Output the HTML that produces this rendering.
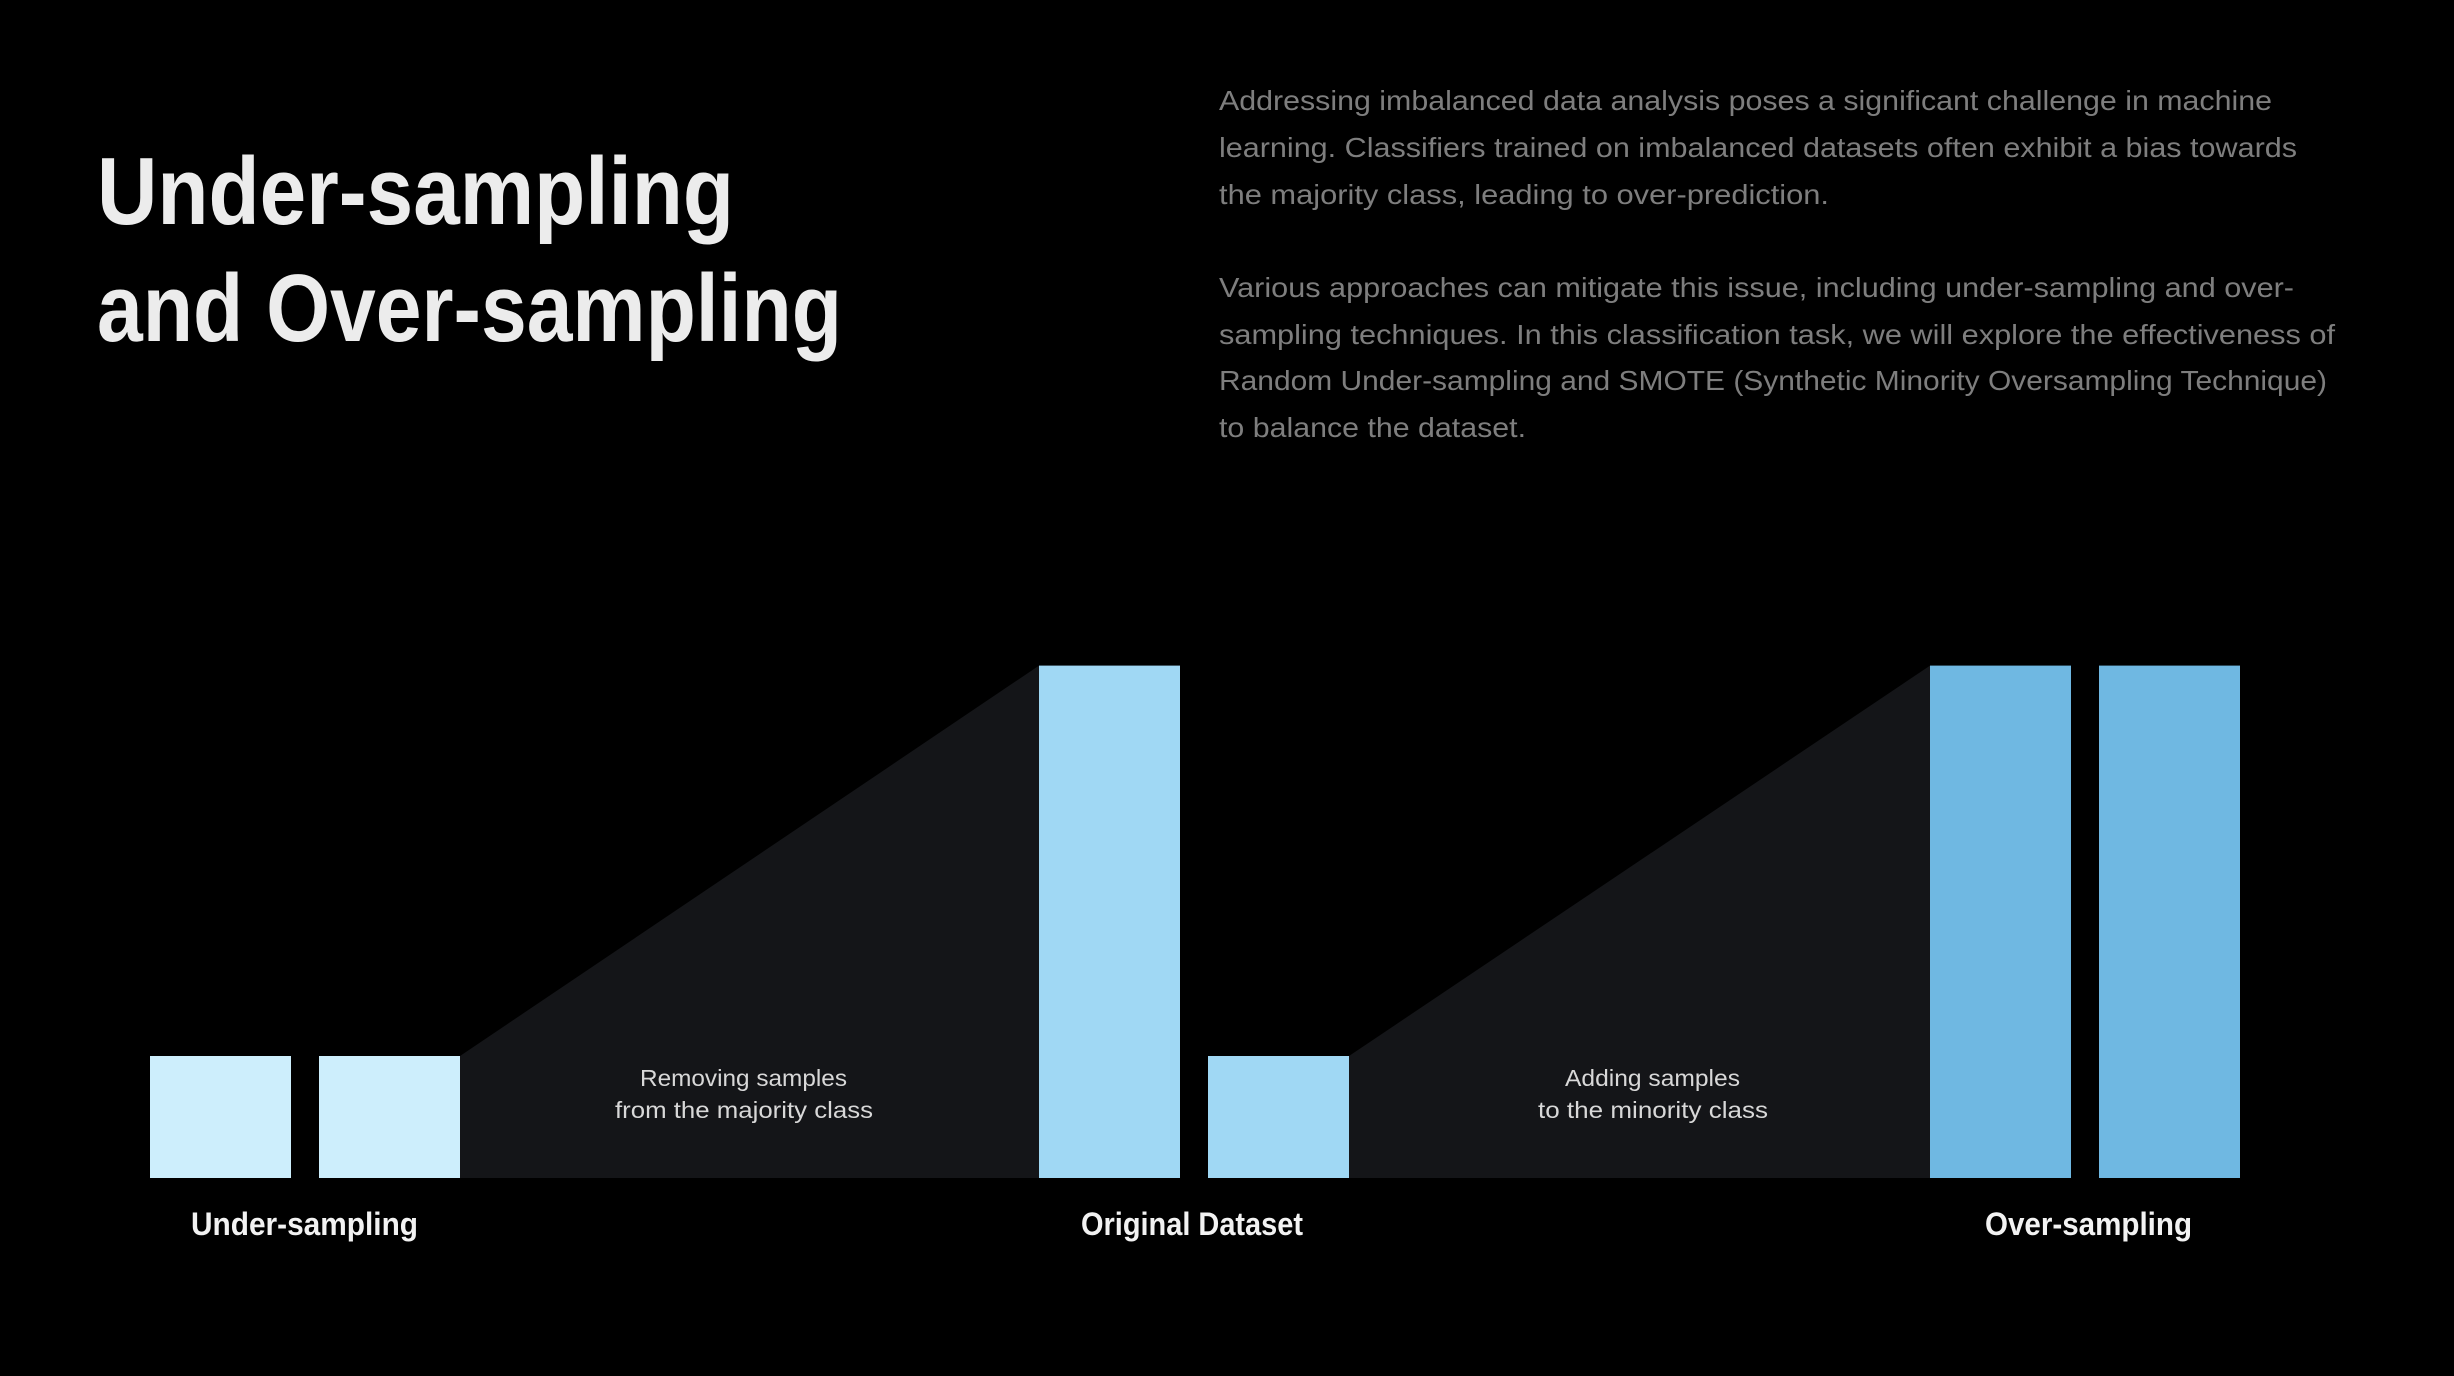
<!DOCTYPE html>
<html><head><meta charset="utf-8"><style>
html,body{margin:0;padding:0;background:#000;}
svg{display:block;}
text{font-family:"Liberation Sans",sans-serif;}
</style></head><body>
<svg id="chart" width="2454" height="1376" viewBox="0 0 2454 1376" xmlns="http://www.w3.org/2000/svg">
<rect width="2454" height="1376" fill="#000"/>
<g fill="#ececec" font-weight="bold" font-size="96">
<text x="97" y="224" textLength="637" lengthAdjust="spacingAndGlyphs">Under-sampling</text>
<text x="97" y="341" textLength="745" lengthAdjust="spacingAndGlyphs">and Over-sampling</text>
</g>
<g fill="#7e7e7e" font-size="28">
<text x="1219" y="110" textLength="1053" lengthAdjust="spacingAndGlyphs">Addressing imbalanced data analysis poses a significant challenge in machine</text>
<text x="1219" y="157" textLength="1078" lengthAdjust="spacingAndGlyphs">learning. Classifiers trained on imbalanced datasets often exhibit a bias towards</text>
<text x="1219" y="204" textLength="610" lengthAdjust="spacingAndGlyphs">the majority class, leading to over-prediction.</text>
<text x="1219" y="297" textLength="1075" lengthAdjust="spacingAndGlyphs">Various approaches can mitigate this issue, including under-sampling and over-</text>
<text x="1219" y="344" textLength="1116" lengthAdjust="spacingAndGlyphs">sampling techniques. In this classification task, we will explore the effectiveness of</text>
<text x="1219" y="390" textLength="1108" lengthAdjust="spacingAndGlyphs">Random Under-sampling and SMOTE (Synthetic Minority Oversampling Technique)</text>
<text x="1219" y="437" textLength="307" lengthAdjust="spacingAndGlyphs">to balance the dataset.</text>
</g>
<g id="shapes"></g>
<g fill="#f2f2f2" font-weight="bold" font-size="32">
<text x="191" y="1235" textLength="227" lengthAdjust="spacingAndGlyphs">Under-sampling</text>
<text x="1081" y="1235" textLength="222" lengthAdjust="spacingAndGlyphs">Original Dataset</text>
<text x="1985" y="1235" textLength="207" lengthAdjust="spacingAndGlyphs">Over-sampling</text>
</g>
<g fill="#d8d8d8" font-size="23">
<text x="640" y="1086" textLength="207" lengthAdjust="spacingAndGlyphs">Removing samples</text>
<text x="615" y="1118" textLength="258" lengthAdjust="spacingAndGlyphs">from the majority class</text>
<text x="1565" y="1086" textLength="175" lengthAdjust="spacingAndGlyphs">Adding samples</text>
<text x="1538" y="1118" textLength="230" lengthAdjust="spacingAndGlyphs">to the minority class</text>
</g>
</svg>
<script>
const groups = ["Under-sampling", "Original Dataset", "Over-sampling"];
const majorityValues = [1, 4.2, 4.2];
const minorityValues = [1, 1, 4.2];
const groupColors = ["#cdeefc", "#a0d8f4", "#6fb8e2"];

const NS = "http://www.w3.org/2000/svg";
const baseY = 1178, unitPx = 122;
const groupX = [150, 1039, 1930];
const barW = 141, gap = 28;
function yScale(v){ return baseY - v * unitPx; }
const g = document.getElementById('shapes');

function leftBar(i){ return groupX[i]; }
function rightBar(i){ return groupX[i] + barW + gap; }

for (let i = 0; i < groups.length - 1; i++) {
  const x0 = rightBar(i) + barW, y0 = yScale(minorityValues[i]);
  const x1 = leftBar(i + 1), y1 = yScale(majorityValues[i + 1]);
  const p = document.createElementNS(NS, 'polygon');
  p.setAttribute('points', `${x0},${y0} ${x1},${y1} ${x1},${baseY} ${x0},${baseY}`);
  p.setAttribute('fill', '#141518');
  
  
  g.appendChild(p);
}
for (let i = 0; i < groups.length; i++) {
  const vals = [majorityValues[i], minorityValues[i]];
  const xs = [leftBar(i), rightBar(i)];
  for (let k = 0; k < 2; k++) {
    const r = document.createElementNS(NS, 'rect');
    r.setAttribute('x', xs[k]);
    r.setAttribute('y', yScale(vals[k]));
    r.setAttribute('width', barW);
    r.setAttribute('height', baseY - yScale(vals[k]));
    r.setAttribute('fill', groupColors[i]);
    
    
    g.appendChild(r);
  }
}
</script>
</body></html>
